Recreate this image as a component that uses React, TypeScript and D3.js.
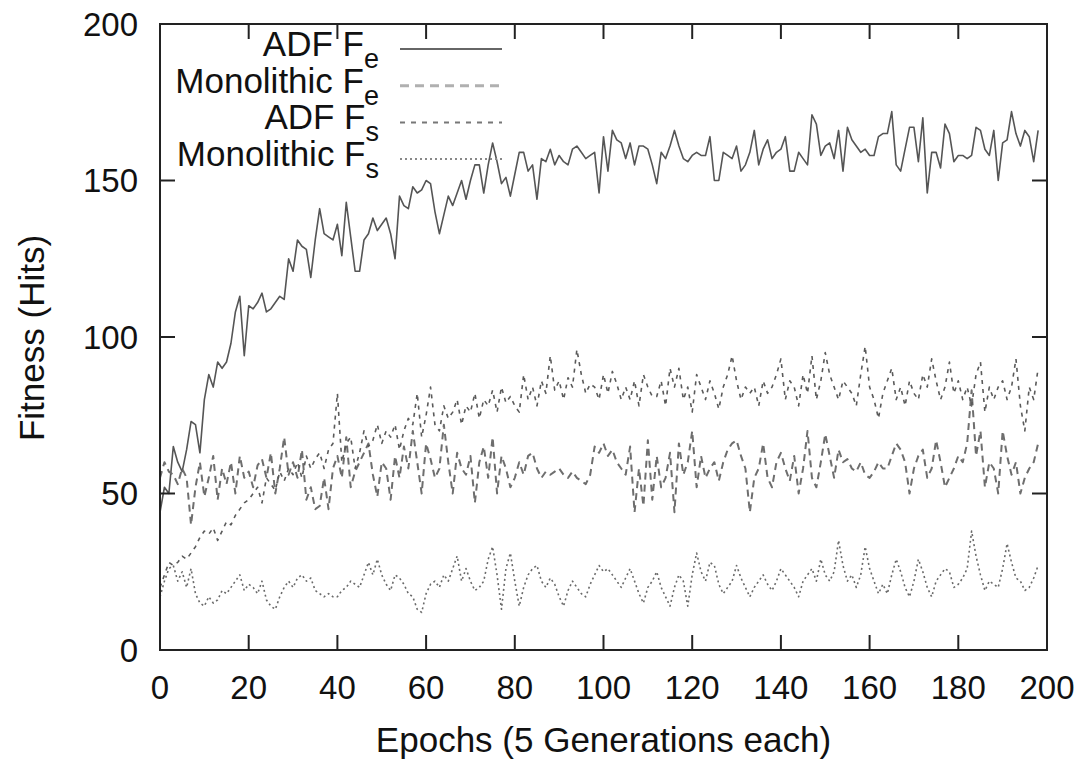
import * as d3 from "d3";

// epochs 0..198, values
const adfFe = [
  44, 52, 50, 65, 60, 57, 64, 73, 72, 63,
  80, 88, 84, 92, 90, 92, 98, 108, 113, 94,
  110, 109, 111, 114, 108, 109, 111, 113, 112, 125,
  121, 131, 129, 128, 119, 131, 141, 133, 132, 131,
  136, 126, 143, 132, 121, 121, 131, 133, 138, 134,
  136, 138, 133, 125, 145, 142, 141, 148, 146, 147,
  150, 149, 140, 133, 139, 145, 142, 146, 150, 144,
  150, 155, 155, 146, 155, 162, 156, 149, 151, 145,
  152, 159, 159, 153, 155, 144, 157, 156, 160, 155,
  158, 156, 155, 160, 161, 159, 157, 158, 159, 146,
  164, 153, 166, 163, 162, 157, 162, 155, 161, 161,
  160, 155, 149, 159, 157, 161, 166, 161, 157, 156,
  158, 159, 158, 158, 164, 150, 150, 159, 158, 157,
  161, 153, 155, 159, 166, 155, 160, 163, 157, 159,
  160, 164, 153, 153, 159, 157, 155, 171, 168, 158,
  161, 162, 157, 166, 153, 167, 163, 161, 159, 160,
  158, 158, 164, 165, 165, 172, 155, 153, 160, 167,
  167, 156, 170, 146, 159, 159, 154, 168, 165, 156,
  158, 158, 157, 158, 167, 166, 160, 158, 166, 150,
  162, 163, 172, 165, 161, 166, 164, 156, 166,
];

const monoFe = [
  55, 60, 57, 56, 53, 58, 55, 40, 52, 60,
  49, 55, 62, 48, 58, 53, 60, 50, 62, 55,
  57, 52, 59, 61, 55, 63, 50, 58, 68, 56,
  60, 55, 64, 48, 52, 45, 46, 55, 45, 58,
  62, 55, 68, 52, 57, 60, 63, 66, 56, 49,
  60, 58, 48, 62, 55, 65, 58, 70, 60, 50,
  66, 61, 55, 58, 72, 60, 50, 63, 58, 56,
  62, 47, 60, 65, 55, 68, 50, 62, 58, 52,
  55, 60, 56, 62, 63, 58, 55, 57, 56, 57,
  58, 56, 55, 57, 55, 54, 53, 56, 65, 63,
  66, 62, 64, 60, 58, 56, 65, 44, 58, 46,
  67, 48, 62, 52, 55, 63, 44, 66, 56, 60,
  70, 52, 62, 55, 58, 60, 54, 60, 64, 66,
  67, 62, 58, 44, 55, 58, 66, 55, 52, 60,
  63, 58, 54, 62, 50, 58, 70, 55, 52, 60,
  69, 62, 55, 64, 60, 61, 58, 57, 60, 56,
  55, 57, 60, 58, 58, 62, 66, 64, 60, 50,
  58, 62, 64, 55, 58, 67, 60, 52, 55, 58,
  62, 60, 66, 83, 62, 70, 52, 60, 58, 50,
  70, 62, 56, 60, 50, 55, 58, 60, 66,
];

const adfFs = [
  20, 24, 28, 27, 28, 30, 29, 31, 33, 36,
  38, 37, 39, 35, 38, 41, 40, 43, 45, 47,
  48, 50, 52, 47, 55, 53, 51, 57, 54, 58,
  56, 60, 55, 62, 58, 61, 63, 58, 64, 66,
  82, 60, 66, 68, 58, 63, 70, 65, 67, 72,
  66, 70, 68, 72, 64, 70, 74, 72, 82, 68,
  75, 84, 72, 70, 78, 74, 76, 80, 72, 78,
  76, 82, 74, 80, 78, 83, 76, 84, 79, 81,
  78, 76, 88, 80, 84, 78, 86, 82, 94, 83,
  86, 80, 87, 84, 96, 88, 82, 85, 84, 80,
  88, 82, 89, 85, 80, 84, 80, 86, 78, 88,
  84, 81, 81, 86, 78, 90, 84, 90, 80, 84,
  76, 88, 84, 80, 86, 82, 77, 84, 88, 94,
  86, 80, 84, 82, 84, 78, 86, 82, 84, 88,
  93, 80, 86, 84, 78, 88, 82, 94, 80, 86,
  95, 88, 84, 80, 86, 84, 82, 78, 88, 97,
  84, 80, 74, 82, 86, 90, 80, 84, 78, 86,
  82, 80, 88, 84, 93, 86, 80, 84, 92, 82,
  86, 80, 84, 78, 88, 92, 76, 84, 80, 84,
  86, 80, 84, 93, 78, 70, 84, 80, 90,
];

const monoFs = [
  17, 22, 26, 27, 22, 25, 20, 26, 18, 15,
  14, 17, 15, 16, 19, 18, 20, 22, 24, 19,
  21, 20, 18, 22, 16, 14, 13, 17, 20, 22,
  20, 23, 24, 22, 23, 19, 18, 17, 18, 17,
  17, 19, 20, 22, 21, 20, 24, 28, 24, 29,
  24, 21, 19, 24, 23, 21, 18, 17, 13, 12,
  18, 21, 22, 20, 24, 22, 26, 30, 22, 26,
  22, 19, 20, 22, 29, 33, 24, 13, 26, 31,
  22, 14, 20, 24, 26, 27, 22, 20, 23, 21,
  17, 14, 19, 22, 20, 18, 17, 21, 24, 27,
  25, 26, 24, 22, 20, 23, 26, 22, 18, 15,
  20, 22, 25, 20, 17, 14, 20, 24, 22, 14,
  24, 31, 25, 22, 28, 27, 21, 18, 20, 22,
  27, 23, 20, 17, 20, 22, 24, 21, 19, 22,
  26, 24, 22, 20, 17, 22, 24, 26, 22, 29,
  24, 22, 25, 35, 27, 22, 24, 20, 24, 33,
  26, 22, 18, 21, 18, 24, 29, 25, 20, 17,
  22, 29, 25, 20, 17, 22, 24, 26, 25, 20,
  21, 23, 26, 38, 30, 24, 19, 22, 21, 20,
  26, 34, 28, 23, 22, 19, 20, 23, 27,
];

const seriesNames = ["ADF F", "Monolithic F", "ADF F", "Monolithic F"];
const seriesSubs = ["e", "e", "s", "s"];
const xTicks = [0, 20, 40, 60, 80, 100, 120, 140, 160, 180, 200];
const yTicks = [0, 50, 100, 150, 200];

const W = 1081;
const H = 760;
const left = 160, right = 1047, top = 24, bottom = 650;
const font = "'Liberation Sans', Arial, Helvetica, sans-serif";

export default function App() {
  const x = d3.scaleLinear([0, 200], [left, right]);
  const y = d3.scaleLinear([0, 200], [bottom, top]);
  const line = d3.line<number>((d, i) => x(i), (d) => y(d));

  // solid, long dash, short dash, dotted
  const styles = [
    { stroke: "#555", width: 1.6, dash: undefined },
    { stroke: "#6e6e6e", width: 2, dash: "7,5" },
    { stroke: "#5a5a5a", width: 1.6, dash: "4,5" },
    { stroke: "#6a6a6a", width: 1.6, dash: "2,3" },
  ];
  const legendStyles = [
    { stroke: "#666", width: 2, dash: undefined },
    { stroke: "#b0b0b0", width: 3, dash: "9,6" },
    { stroke: "#777", width: 2, dash: "5,6" },
    { stroke: "#888", width: 2, dash: "2,3" },
  ];
  const data = [adfFe, monoFe, adfFs, monoFs];
  const tickLen = 15;

  return (
    <svg width={W} height={H} style={{ position: "absolute", left: 0, top: 0, background: "#fff" }}
      fontFamily={font}>
      <defs>
        <clipPath id="plot">
          <rect x={left} y={top} width={right - left} height={bottom - top} />
        </clipPath>
      </defs>

      <g clipPath="url(#plot)">
        {data.map((d, k) => (
          <path key={k} d={line(d) ?? ""} fill="none" stroke={styles[k].stroke}
            strokeWidth={styles[k].width} strokeDasharray={styles[k].dash} strokeLinejoin="round" />
        ))}
      </g>

      {/* frame */}
      <rect x={left} y={top} width={right - left} height={bottom - top} fill="none" stroke="#222" strokeWidth={2} />

      {xTicks.map((t) => (
        <g key={"x" + t}>
          <line x1={x(t)} x2={x(t)} y1={bottom} y2={bottom - tickLen} stroke="#222" strokeWidth={2} />
          <line x1={x(t)} x2={x(t)} y1={top} y2={top + tickLen} stroke="#222" strokeWidth={2} />
          <text x={x(t)} y={699} textAnchor="middle" fontSize={33} fill="#111">{t}</text>
        </g>
      ))}
      {yTicks.map((t) => (
        <g key={"y" + t}>
          <line x1={left} x2={left + tickLen} y1={y(t)} y2={y(t)} stroke="#222" strokeWidth={2} />
          <line x1={right} x2={right - tickLen} y1={y(t)} y2={y(t)} stroke="#222" strokeWidth={2} />
          <text x={138} y={y(t)} dy="0.36em" textAnchor="end" fontSize={33} fill="#111">{t}</text>
        </g>
      ))}

      <text x={(left + right) / 2} y={752} textAnchor="middle" fontSize={35} fill="#111">
        Epochs (5 Generations each)
      </text>
      <text transform={`translate(44,${(top + bottom) / 2 + 1}) rotate(-90)`} textAnchor="middle"
        fontSize={35} fill="#111">
        Fitness (Hits)
      </text>

      {/* legend */}
      {seriesNames.map((n, k) => {
        const base = 56 + k * 36.7;
        return (
          <g key={"l" + k}>
            <text x={379} y={base} textAnchor="end" fontSize={35} fill="#111">
              {n}
              <tspan dy={12} fontSize={27}>{seriesSubs[k]}</tspan>
            </text>
            <line x1={400} x2={502} y1={base - 7} y2={base - 7} stroke={legendStyles[k].stroke}
              strokeWidth={legendStyles[k].width} strokeDasharray={legendStyles[k].dash} />
          </g>
        );
      })}
    </svg>
  );
}
